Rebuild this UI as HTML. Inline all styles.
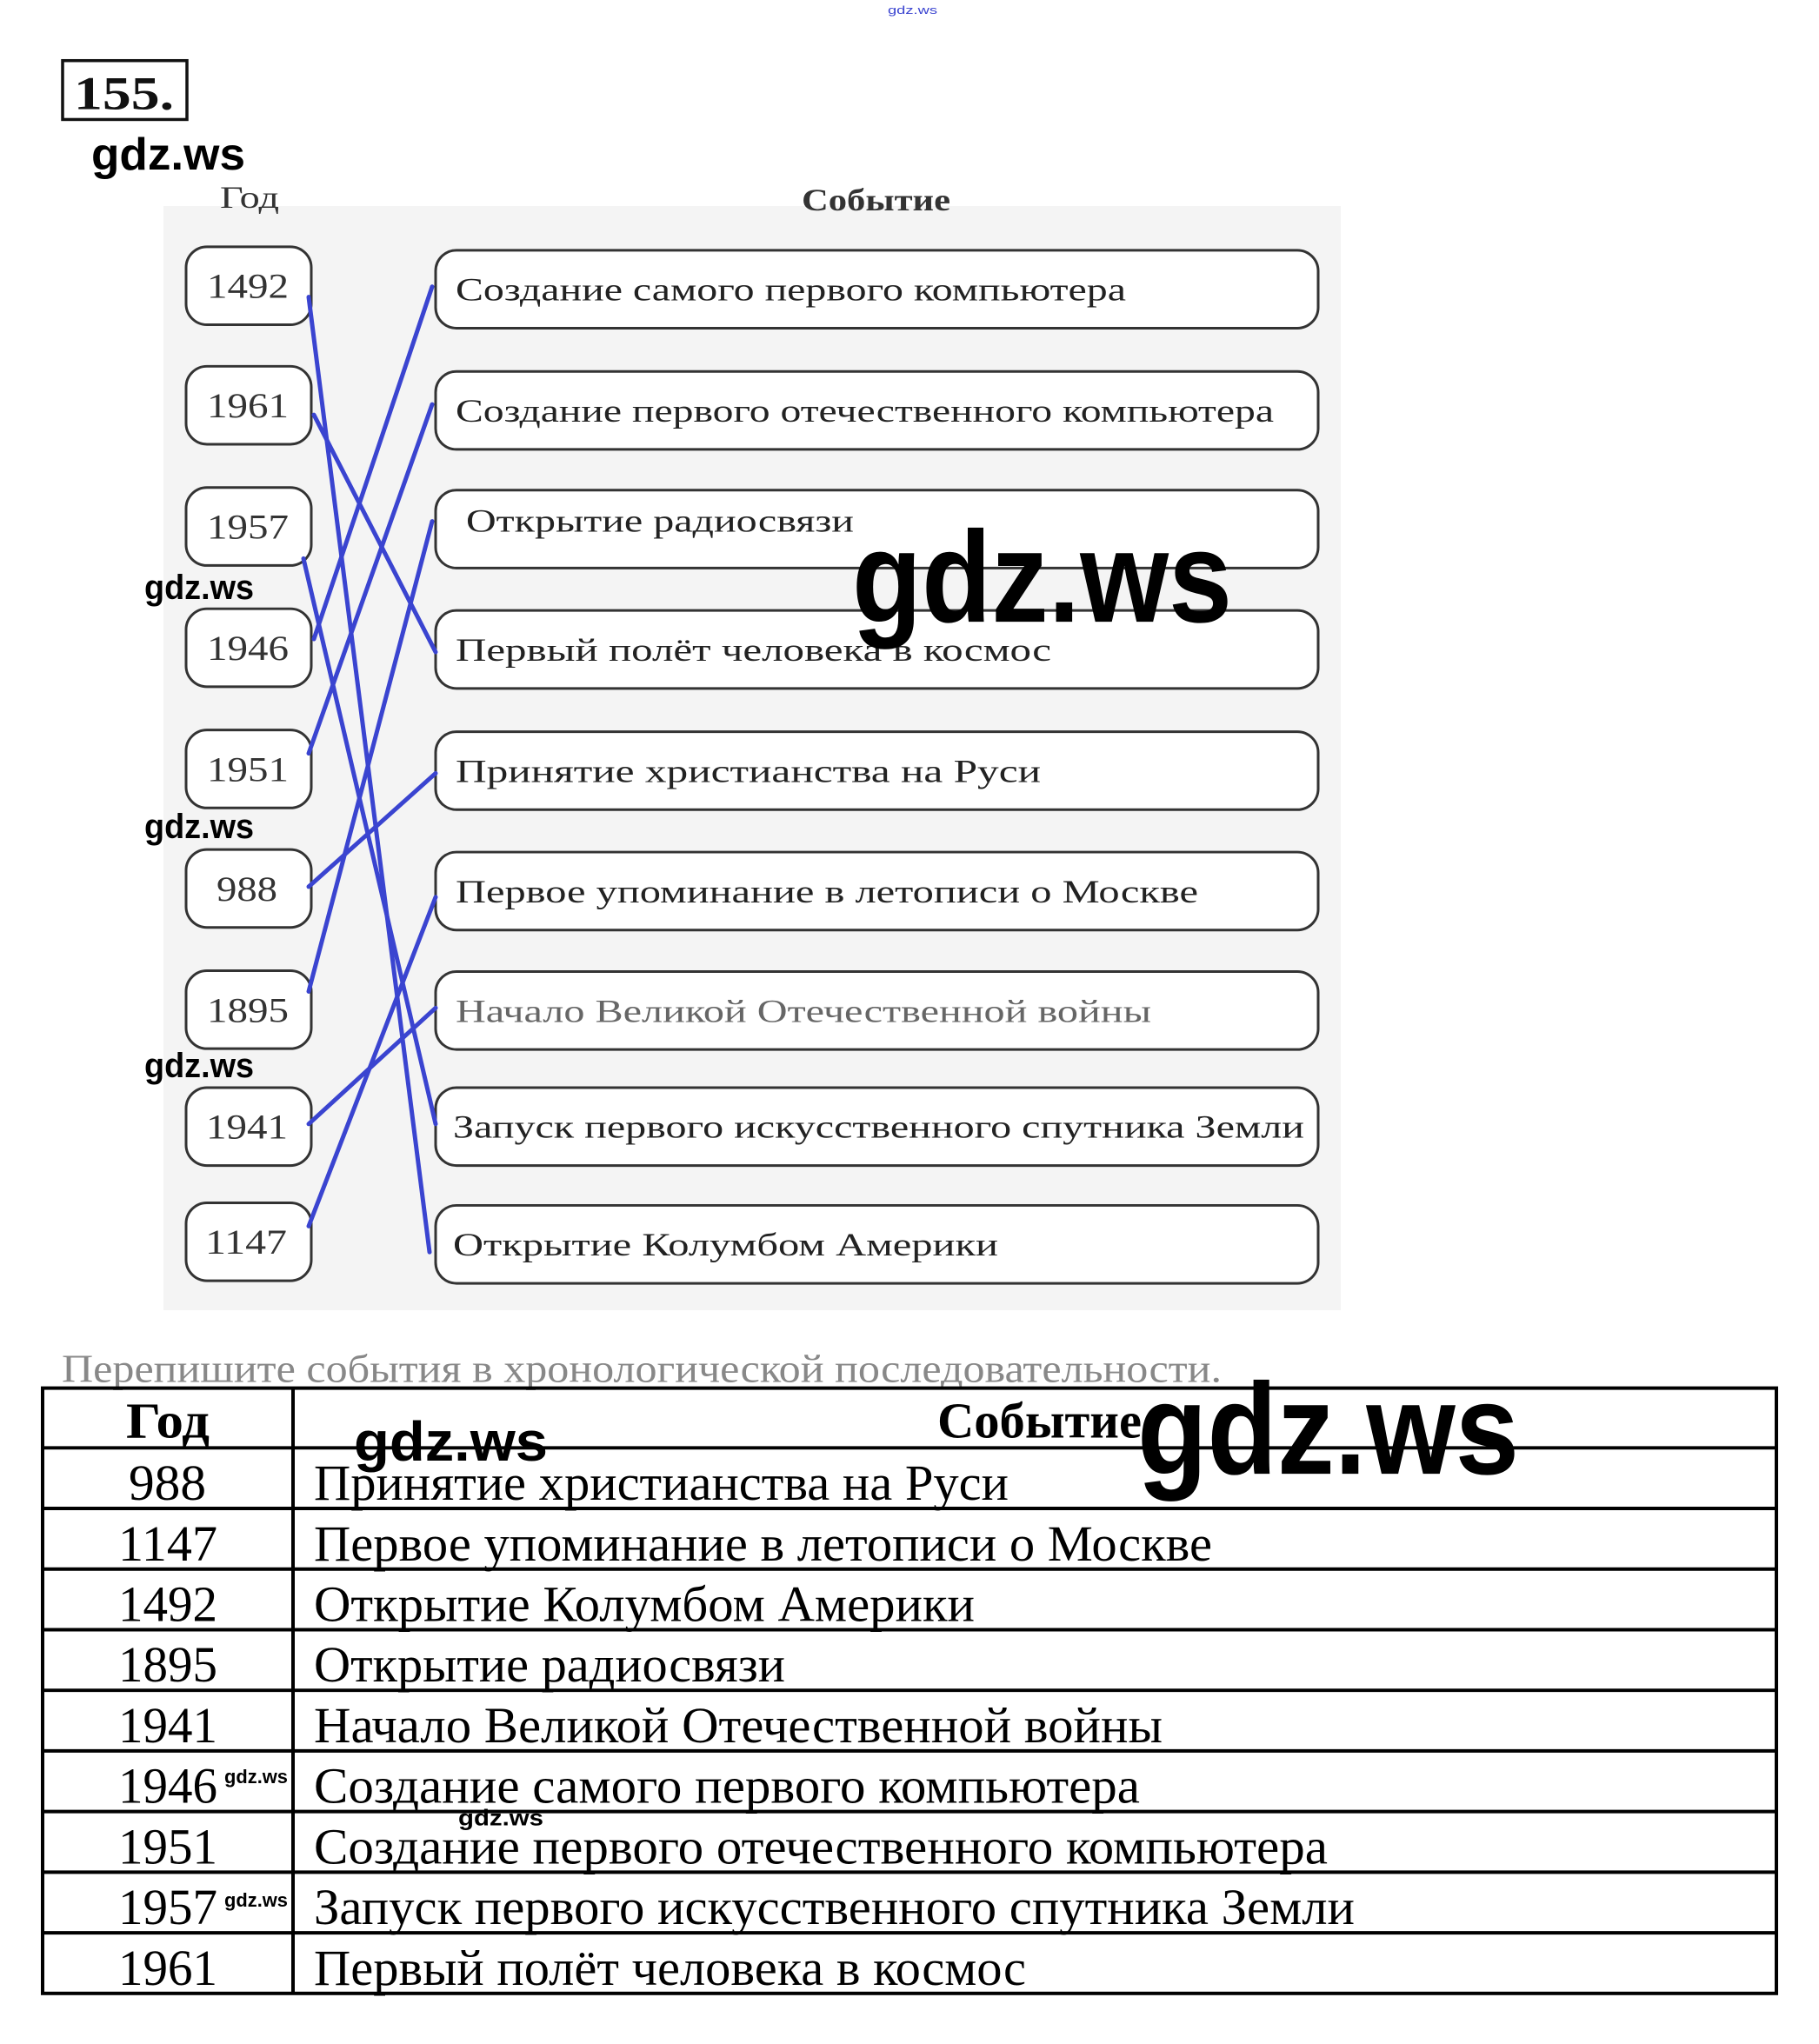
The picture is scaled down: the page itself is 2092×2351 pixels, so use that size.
<!DOCTYPE html>
<html><head><meta charset="utf-8"><style>
html,body{margin:0;padding:0;background:#fff;}
svg{display:block;}
.s{font-family:"Liberation Serif","Noto Serif CJK SC",serif;}
.g{font-family:"Liberation Sans","DejaVu Sans",sans-serif;}
</style></head><body>
<svg width="2092" height="2351" viewBox="0 0 2092 2351" xmlns="http://www.w3.org/2000/svg">
<rect width="2092" height="2351" fill="#fff"/>
<g transform="scale(1,0.996)">
<text class="g" x="1021" y="16" font-size="13" fill="#3a44d0" textLength="57" lengthAdjust="spacingAndGlyphs">gdz.ws</text>
<rect x="72" y="70" width="143" height="68" fill="none" stroke="#111" stroke-width="3.5"/>
<text class="s" x="85" y="126" font-size="54" font-weight="bold" fill="#111" textLength="115" lengthAdjust="spacingAndGlyphs">155.</text>
<text class="g" x="105" y="196" font-size="52" font-weight="bold" fill="#000" textLength="177" lengthAdjust="spacingAndGlyphs">gdz.ws</text>
<rect x="188" y="238" width="1354" height="1275" fill="#f4f4f4"/>
<text class="s" x="253" y="240" font-size="36" fill="#333" textLength="68" lengthAdjust="spacingAndGlyphs">Год</text>
<text class="s" x="922" y="243" font-size="36" font-weight="bold" fill="#333" textLength="171" lengthAdjust="spacingAndGlyphs">Событие</text>
<g fill="#fff" stroke="#333" stroke-width="3">
<rect x="214" y="285" width="144" height="90" rx="24"/>
<rect x="214" y="423" width="144" height="90" rx="24"/>
<rect x="214" y="563" width="144" height="90" rx="24"/>
<rect x="214" y="703" width="144" height="90" rx="24"/>
<rect x="214" y="843" width="144" height="90" rx="24"/>
<rect x="214" y="981" width="144" height="90" rx="24"/>
<rect x="214" y="1121" width="144" height="90" rx="24"/>
<rect x="214" y="1256" width="144" height="90" rx="24"/>
<rect x="214" y="1389" width="144" height="90" rx="24"/>
<rect x="501" y="289" width="1015" height="90" rx="24"/>
<rect x="501" y="429" width="1015" height="90" rx="24"/>
<rect x="501" y="566" width="1015" height="90" rx="24"/>
<rect x="501" y="705" width="1015" height="90" rx="24"/>
<rect x="501" y="845" width="1015" height="90" rx="24"/>
<rect x="501" y="984" width="1015" height="90" rx="24"/>
<rect x="501" y="1122" width="1015" height="90" rx="24"/>
<rect x="501" y="1256" width="1015" height="90" rx="24"/>
<rect x="501" y="1392" width="1015" height="90" rx="24"/>
</g>
<g class="s" font-size="40" fill="#333">
<text x="238" y="344" textLength="94" lengthAdjust="spacingAndGlyphs">1492</text>
<text x="238" y="482" textLength="94" lengthAdjust="spacingAndGlyphs">1961</text>
<text x="238" y="622" textLength="94" lengthAdjust="spacingAndGlyphs">1957</text>
<text x="238" y="762" textLength="94" lengthAdjust="spacingAndGlyphs">1946</text>
<text x="238" y="902" textLength="94" lengthAdjust="spacingAndGlyphs">1951</text>
<text x="249" y="1040" textLength="70" lengthAdjust="spacingAndGlyphs">988</text>
<text x="238" y="1180" textLength="94" lengthAdjust="spacingAndGlyphs">1895</text>
<text x="237" y="1315" textLength="94" lengthAdjust="spacingAndGlyphs">1941</text>
<text x="236" y="1448" textLength="94" lengthAdjust="spacingAndGlyphs">1147</text>
</g>
<g class="s" font-size="37" fill="#222">
<text x="524" y="347" textLength="771" lengthAdjust="spacingAndGlyphs">Создание самого первого компьютера</text>
<text x="524" y="487" textLength="941" lengthAdjust="spacingAndGlyphs">Создание первого отечественного компьютера</text>
<text x="536" y="614" textLength="446" lengthAdjust="spacingAndGlyphs">Открытие радиосвязи</text>
<text x="524" y="763" textLength="685" lengthAdjust="spacingAndGlyphs">Первый полёт человека в космос</text>
<text x="524" y="903" textLength="673" lengthAdjust="spacingAndGlyphs">Принятие христианства на Руси</text>
<text x="524" y="1042" textLength="854" lengthAdjust="spacingAndGlyphs">Первое упоминание в летописи о Москве</text>
<text x="524" y="1180" textLength="800" lengthAdjust="spacingAndGlyphs" fill="#666">Начало Великой Отечественной войны</text>
<text x="521" y="1314" textLength="979" lengthAdjust="spacingAndGlyphs">Запуск первого искусственного спутника Земли</text>
<text x="521" y="1450" textLength="627" lengthAdjust="spacingAndGlyphs">Открытие Колумбом Америки</text>
</g>
<g stroke="#3a44d0" stroke-width="5" stroke-linecap="round">
<line x1="355" y1="343" x2="494" y2="1446"/>
<line x1="361" y1="479" x2="501" y2="753"/>
<line x1="349" y1="645" x2="501" y2="1298"/>
<line x1="361" y1="738" x2="497" y2="331"/>
<line x1="355" y1="870" x2="497" y2="467"/>
<line x1="355" y1="1024" x2="501" y2="893"/>
<line x1="355" y1="1145" x2="497" y2="602"/>
<line x1="355" y1="1298" x2="501" y2="1164"/>
<line x1="355" y1="1416" x2="501" y2="1036"/>
</g>
<g class="g" font-size="40" font-weight="bold" fill="#000">
<text x="166" y="692" textLength="126" lengthAdjust="spacingAndGlyphs">gdz.ws</text>
<text x="166" y="968" textLength="126" lengthAdjust="spacingAndGlyphs">gdz.ws</text>
<text x="166" y="1244" textLength="126" lengthAdjust="spacingAndGlyphs">gdz.ws</text>
</g>
<text class="g" x="980" y="718" font-size="150" font-weight="bold" fill="#000" textLength="437" lengthAdjust="spacingAndGlyphs">gdz.ws</text>
<text class="s" x="71" y="1596" font-size="46" fill="#888" textLength="1334" lengthAdjust="spacingAndGlyphs">Перепишите события в хронологической последовательности.</text>
<g stroke="#000" stroke-width="4" fill="none">
<rect x="49" y="1603" width="1994" height="699"/>
<line x1="337" y1="1603" x2="337" y2="2302"/>
<line x1="49" y1="1672" x2="2043" y2="1672"/>
<line x1="49" y1="1742" x2="2043" y2="1742"/>
<line x1="49" y1="1812" x2="2043" y2="1812"/>
<line x1="49" y1="1882" x2="2043" y2="1882"/>
<line x1="49" y1="1952" x2="2043" y2="1952"/>
<line x1="49" y1="2022" x2="2043" y2="2022"/>
<line x1="49" y1="2092" x2="2043" y2="2092"/>
<line x1="49" y1="2162" x2="2043" y2="2162"/>
<line x1="49" y1="2232" x2="2043" y2="2232"/>
</g>
<g class="s" font-size="58" fill="#000">
<text x="145" y="1660" font-weight="bold" textLength="96" lengthAdjust="spacingAndGlyphs">Год</text>
<text x="1078" y="1660" font-weight="bold" textLength="235" lengthAdjust="spacingAndGlyphs">Событие</text>
<text x="148" y="1732" textLength="89" lengthAdjust="spacingAndGlyphs">988</text>
<text x="136" y="1802" textLength="114" lengthAdjust="spacingAndGlyphs">1147</text>
<text x="136" y="1872" textLength="114" lengthAdjust="spacingAndGlyphs">1492</text>
<text x="136" y="1942" textLength="114" lengthAdjust="spacingAndGlyphs">1895</text>
<text x="136" y="2012" textLength="114" lengthAdjust="spacingAndGlyphs">1941</text>
<text x="136" y="2082" textLength="114" lengthAdjust="spacingAndGlyphs">1946</text>
<text x="136" y="2152" textLength="114" lengthAdjust="spacingAndGlyphs">1951</text>
<text x="136" y="2222" textLength="114" lengthAdjust="spacingAndGlyphs">1957</text>
<text x="136" y="2292" textLength="114" lengthAdjust="spacingAndGlyphs">1961</text>
<text x="361" y="1732" textLength="799" lengthAdjust="spacingAndGlyphs">Принятие христианства на Руси</text>
<text x="361" y="1802" textLength="1033" lengthAdjust="spacingAndGlyphs">Первое упоминание в летописи о Москве</text>
<text x="361" y="1872" textLength="760" lengthAdjust="spacingAndGlyphs">Открытие Колумбом Америки</text>
<text x="361" y="1942" textLength="542" lengthAdjust="spacingAndGlyphs">Открытие радиосвязи</text>
<text x="361" y="2012" textLength="976" lengthAdjust="spacingAndGlyphs">Начало Великой Отечественной войны</text>
<text x="361" y="2082" textLength="950" lengthAdjust="spacingAndGlyphs">Создание самого первого компьютера</text>
<text x="361" y="2152" textLength="1166" lengthAdjust="spacingAndGlyphs">Создание первого отечественного компьютера</text>
<text x="361" y="2222" textLength="1197" lengthAdjust="spacingAndGlyphs">Запуск первого искусственного спутника Земли</text>
<text x="361" y="2292" textLength="819" lengthAdjust="spacingAndGlyphs">Первый полёт человека в космос</text>
</g>
<g class="g" fill="#000" font-weight="bold">
<text x="407" y="1687" font-size="64" textLength="223" lengthAdjust="spacingAndGlyphs">gdz.ws</text>
<text x="1308" y="1702" font-size="150" textLength="439" lengthAdjust="spacingAndGlyphs">gdz.ws</text>
<text x="258" y="2059" font-size="22" textLength="73" lengthAdjust="spacingAndGlyphs">gdz.ws</text>
<text x="258" y="2202" font-size="22" textLength="73" lengthAdjust="spacingAndGlyphs">gdz.ws</text>
<text x="527" y="2108" font-size="26" textLength="98" lengthAdjust="spacingAndGlyphs">gdz.ws</text>
</g>
</g>
</svg>
</body></html>
